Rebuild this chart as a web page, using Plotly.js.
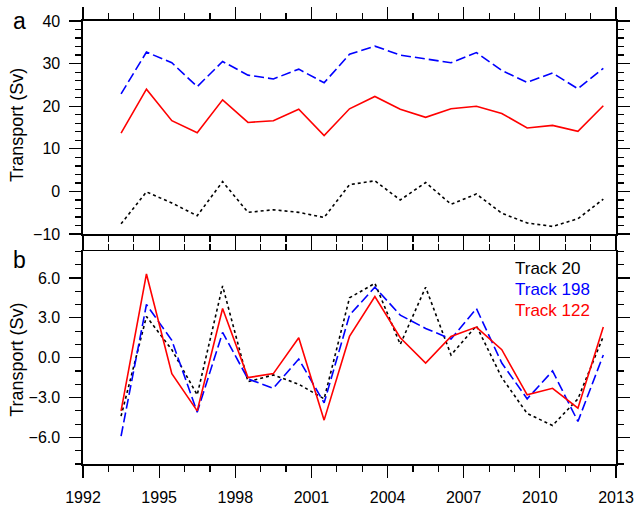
<!DOCTYPE html>
<html>
<head>
<meta charset="utf-8">
<script src="https://cdn.plot.ly/plotly-3.0.1.min.js"></script>
<style>html,body{margin:0;padding:0;background:#fff;}#chart{width:636px;height:506px;}</style>
</head>
<body>
<div id="chart"></div>
<script>
// Years (mid-year points)
const years = [1993.5,1994.5,1995.5,1996.5,1997.5,1998.5,1999.5,2000.5,2001.5,2002.5,2003.5,2004.5,2005.5,2006.5,2007.5,2008.5,2009.5,2010.5,2011.5,2012.5];

// Panel a: absolute transport (Sv)
const a_track198 = [22.9,32.7,30.2,24.6,30.5,27.3,26.4,28.7,25.5,32.2,34.1,32.0,31.1,30.2,32.6,28.4,25.6,27.8,24.1,28.9];
const a_track122 = [13.7,24.0,16.6,13.8,21.5,16.2,16.6,19.3,13.1,19.4,22.3,19.3,17.4,19.4,20.0,18.3,14.9,15.5,14.1,20.1];
const a_track20  = [-7.6,-0.1,-2.7,-5.7,2.3,-4.9,-4.3,-4.9,-6.1,1.6,2.5,-2.0,2.1,-3.0,-0.6,-5.1,-7.4,-8.2,-6.4,-1.8];

// Panel b: transport anomalies (Sv)
const b_track20  = [-4.4,3.1,0.6,-2.8,5.4,-1.8,-1.3,-2.0,-3.1,4.5,5.6,1.0,5.3,0.2,2.4,-1.5,-4.2,-5.1,-3.1,1.6];
const b_track198 = [-5.9,4.0,1.3,-4.1,1.9,-1.6,-2.3,-0.1,-3.4,3.2,5.3,3.2,2.2,1.4,3.7,-0.4,-3.1,-1.0,-4.8,0.2];
const b_track122 = [-4.0,6.3,-1.2,-4.0,3.7,-1.5,-1.2,1.5,-4.7,1.6,4.6,1.5,-0.4,1.6,2.3,0.6,-2.8,-2.3,-3.8,2.3];

const legendNames = ["Track 20","Track 198","Track 122"];
const yTitle = "Transport (Sv)";
const panelLabels = ["a","b"];

const cBlack = "#000000", cBlue = "#0000ff", cRed = "#ff0000";
const dashBlue = "10px,4px", dotBlack = "3px,3px";
const lw = 1.6;

function tr(y, color, dash, xa, ya) {
  return {x: years, y: y, type: "scatter", mode: "lines", xaxis: xa, yaxis: ya,
          line: {color: color, width: lw, dash: dash}, showlegend: false, hoverinfo: "skip"};
}

const data = [
  tr(a_track198, cBlue, dashBlue, "x2", "y2"),
  tr(a_track122, cRed, "solid", "x2", "y2"),
  tr(a_track20, cBlack, dotBlack, "x2", "y2"),
  tr(b_track20, cBlack, dotBlack, "x", "y"),
  tr(b_track198, cBlue, dashBlue, "x", "y"),
  tr(b_track122, cRed, "solid", "x", "y")
];

const font = "Liberation Sans, Arial, Helvetica, sans-serif";
const common = {
  showline: true, linecolor: "#000", linewidth: 1.6, mirror: "allticks",
  ticks: "outside", ticklen: 12, tickwidth: 1.2, tickcolor: "#000",
  showgrid: false, zeroline: false,
  tickfont: {family: font, size: 16, color: "#000"},
  ticklabelstandoff: 6
};

const xCommon = Object.assign({}, common, {
  range: [1992, 2013], tick0: 1992, dtick: 3,
  minor: {dtick: 1, tick0: 1992, ticks: "outside", ticklen: 6, tickwidth: 1.2, tickcolor: "#000", showgrid: false}
});

const layout = {
  width: 636, height: 506,
  margin: {l: 83, r: 20, t: 21, b: 42},
  paper_bgcolor: "#fff", plot_bgcolor: "#fff",
  font: {family: font, color: "#000"},
  xaxis: Object.assign({}, xCommon, {anchor: "y", domain: [0, 1]}),
  xaxis2: Object.assign({}, xCommon, {anchor: "y2", matches: "x", showticklabels: false}),
  yaxis: Object.assign({}, common, {
    domain: [0, 0.48], range: [-8, 8], tick0: 0, dtick: 3, tickformat: ".1f",
    minor: {dtick: 1, tick0: 0, ticks: "outside", ticklen: 6, tickwidth: 1.2, tickcolor: "#000", showgrid: false}
  }),
  yaxis2: Object.assign({}, common, {
    domain: [0.519, 1], range: [-10, 40], tick0: 0, dtick: 10,
    minor: {dtick: 2, tick0: 0, ticks: "outside", ticklen: 6, tickwidth: 1.2, tickcolor: "#000", showgrid: false}
  }),
  annotations: [
    {text: panelLabels[0], xref: "paper", yref: "paper", x: -0.136, y: 1.0, xanchor: "left", yanchor: "middle",
     showarrow: false, font: {family: font, size: 23, color: "#000"}},
    {text: panelLabels[1], xref: "paper", yref: "paper", x: -0.136, y: 0.46, xanchor: "left", yanchor: "middle",
     showarrow: false, font: {family: font, size: 23, color: "#000"}},
    {text: yTitle, xref: "paper", yref: "paper", x: -0.124, y: 0.765, textangle: -90, xanchor: "center", yanchor: "middle",
     showarrow: false, font: {family: font, size: 18, color: "#000"}},
    {text: yTitle, xref: "paper", yref: "paper", x: -0.124, y: 0.235, textangle: -90, xanchor: "center", yanchor: "middle",
     showarrow: false, font: {family: font, size: 18, color: "#000"}},
    {text: legendNames[0], xref: "paper", yref: "paper", x: 0.806, y: (464.3-268.3)/443, xanchor: "left", yanchor: "middle",
     showarrow: false, font: {family: font, size: 17, color: cBlack}},
    {text: legendNames[1], xref: "paper", yref: "paper", x: 0.806, y: (464.3-289.3)/443, xanchor: "left", yanchor: "middle",
     showarrow: false, font: {family: font, size: 17, color: cBlue}},
    {text: legendNames[2], xref: "paper", yref: "paper", x: 0.806, y: (464.3-310.3)/443, xanchor: "left", yanchor: "middle",
     showarrow: false, font: {family: font, size: 17, color: cRed}}
  ]
};

Plotly.newPlot("chart", data, layout, {staticPlot: true, displayModeBar: false});
</script>
</body>
</html>
